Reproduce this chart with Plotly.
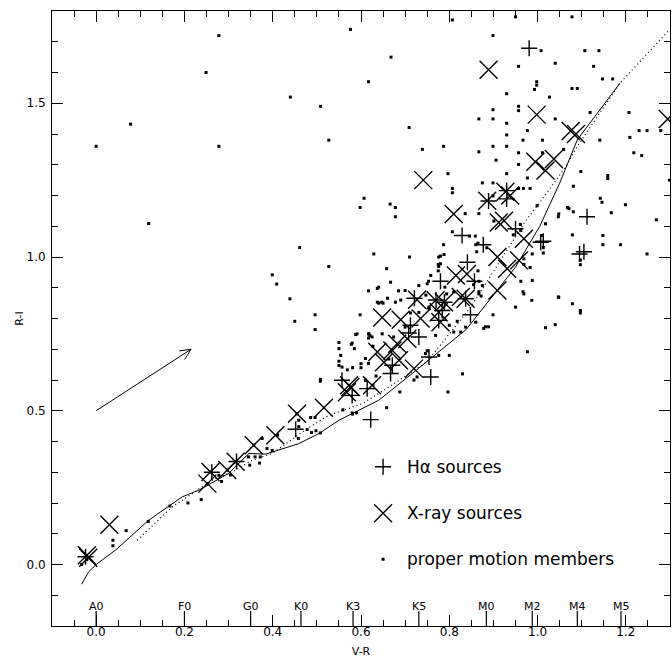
import numpy as np
import plotly.graph_objects as go

# ---------------- data ----------------
# dwarf sequence (solid) and second locus (dotted)
solid_vr = [-0.033, -0.017, 0.0, 0.044, 0.119, 0.195, 0.233, 0.30, 0.346, 0.384, 0.459, 0.505, 0.55, 0.64, 0.721, 0.838, 0.95, 1.005, 1.05, 1.09, 1.187]
solid_ri = [-0.064, -0.024, 0.0, 0.047, 0.144, 0.22, 0.242, 0.296, 0.361, 0.359, 0.393, 0.426, 0.469, 0.534, 0.627, 0.764, 0.967, 1.10, 1.24, 1.381, 1.566]
dotted_vr = [0.093, 0.172, 0.263, 0.316, 0.353, 0.399, 0.478, 0.527, 0.603, 0.663, 0.75, 0.838, 0.863, 0.94, 0.973, 1.003, 1.063, 1.09, 1.187, 1.297]
dotted_ri = [0.079, 0.187, 0.274, 0.307, 0.339, 0.361, 0.442, 0.485, 0.523, 0.577, 0.66, 0.818, 0.869, 1.043, 1.118, 1.173, 1.292, 1.36, 1.566, 1.736]

# proper motion members (V-R, R-I)
pm_members = [
    (0.807, 1.771), (1.078, 1.781), (0.950, 1.781), (0.576, 1.740), (0.278, 1.720), (0.899, 1.720),
    (0.668, 1.650), (1.008, 1.671), (1.107, 1.671), (1.139, 1.671), (1.127, 1.620), (1.040, 1.630),
    (0.249, 1.600), (0.957, 1.620), (0.998, 1.570), (0.998, 1.559), (1.147, 1.579), (1.170, 1.579),
    (0.617, 1.570), (0.993, 1.545), (1.027, 1.520), (0.930, 1.531), (1.078, 1.548), (1.090, 1.548),
    (0.440, 1.520), (0.957, 1.490), (0.957, 1.476), (0.899, 1.479), (0.508, 1.490), (0.867, 1.449),
    (0.899, 1.449), (1.040, 1.449), (1.119, 1.470), (1.207, 1.470), (0.930, 1.435), (0.709, 1.421),
    (0.977, 1.411), (1.230, 1.411), (1.248, 1.411), (1.279, 1.411), (0.078, 1.432), (0.930, 1.397),
    (1.141, 1.380), (1.209, 1.389), (0.967, 1.380), (1.011, 1.380), (0.527, 1.380), (0.930, 1.360),
    (0.899, 1.360), (0.787, 1.360), (0.0, 1.360), (0.278, 1.360), (0.739, 1.350), (0.867, 1.342),
    (0.957, 1.339), (1.218, 1.339), (1.059, 1.350), (1.011, 1.339), (1.236, 1.330), (0.906, 1.315),
    (0.957, 1.301), (1.098, 1.278), (0.930, 1.271), (0.797, 1.271), (1.159, 1.255), (1.159, 1.265),
    (1.299, 1.250), (0.875, 1.241), (0.899, 1.241), (0.977, 1.257), (0.957, 1.223), (0.968, 1.223),
    (0.983, 1.223), (0.807, 1.223), (0.807, 1.209), (1.081, 1.230), (0.607, 1.191), (0.899, 1.199),
    (1.142, 1.191), (1.146, 1.178), (0.666, 1.172), (0.678, 1.161), (0.598, 1.161), (1.068, 1.161),
    (1.081, 1.147), (1.199, 1.170), (0.867, 1.141), (0.836, 1.141), (0.678, 1.131), (1.167, 1.144),
    (1.269, 1.121), (1.047, 1.131), (0.961, 1.106), (0.901, 1.117), (0.119, 1.109), (1.018, 1.108),
    (1.048, 1.140), (1.071, 1.157), (0.962, 1.086), (0.807, 1.082), (0.846, 1.068), (0.859, 1.068),
    (0.945, 1.072), (0.865, 1.045), (0.787, 1.040), (1.079, 1.072), (1.148, 1.070), (1.188, 1.040),
    (1.148, 1.040), (0.461, 1.031), (1.013, 1.031), (1.013, 1.013), (0.988, 1.010), (0.780, 1.003),
    (0.862, 1.017), (0.710, 1.000), (1.248, 1.010), (1.097, 0.990), (1.097, 0.975), (0.969, 0.994),
    (0.969, 0.976), (0.629, 1.010), (0.983, 0.966), (0.527, 0.969), (0.658, 0.962), (0.865, 0.955),
    (0.775, 0.976), (0.399, 0.942), (0.775, 0.955), (0.409, 0.912), (0.962, 0.921), (0.753, 0.921),
    (0.867, 0.921), (1.010, 1.070), (0.999, 1.167), (0.967, 0.887), (0.637, 0.898), (0.617, 0.890),
    (1.047, 0.870), (0.867, 0.887), (0.794, 0.880), (1.079, 0.848), (1.097, 0.826), (1.097, 0.818),
    (0.439, 0.864), (0.637, 0.853), (0.647, 0.853), (0.660, 0.866), (0.685, 0.890), (0.496, 0.812),
    (0.496, 0.764), (0.450, 0.791), (1.040, 0.780), (1.018, 0.770), (0.882, 0.773), (0.889, 0.773),
    (0.899, 0.812), (0.598, 0.812), (0.678, 0.853), (0.977, 0.692), (0.550, 0.722), (0.550, 0.702),
    (0.578, 0.716), (0.585, 0.702), (0.617, 0.750), (0.617, 0.736), (0.818, 0.791), (0.872, 0.873),
    (0.755, 0.832), (0.712, 0.818), (0.988, 0.924), (0.987, 0.859), (1.048, 0.869), (0.950, 0.837),
    (0.969, 0.880), (0.776, 1.000), (0.788, 1.008), (0.758, 0.940), (0.776, 0.969), (0.667, 0.918),
    (0.640, 0.902), (0.640, 0.850), (0.650, 0.850), (0.700, 0.891), (0.690, 0.860), (0.731, 0.907),
    (0.750, 0.913), (0.747, 0.876), (0.591, 0.750), (0.618, 0.750), (0.625, 0.740), (0.648, 0.750),
    (0.674, 0.740), (0.700, 0.772), (0.731, 0.820), (0.754, 0.837), (0.769, 0.745), (0.800, 0.778),
    (0.810, 0.756), (0.800, 0.680), (0.826, 0.756), (0.837, 0.772), (0.860, 0.788), (0.878, 0.768),
    (0.867, 0.880), (0.875, 0.907), (0.855, 0.910), (0.790, 0.902), (0.810, 0.886), (0.885, 1.030),
    (0.780, 0.978), (0.860, 1.040), (0.508, 0.602), (0.508, 0.596), (0.550, 0.661), (0.550, 0.647),
    (0.569, 0.633), (0.581, 0.640), (0.617, 0.654), (0.797, 0.561), (0.688, 0.561), (0.658, 0.510),
    (0.559, 0.503), (0.581, 0.489), (0.610, 0.599), (0.634, 0.613), (0.663, 0.668), (0.750, 0.695),
    (0.557, 0.642), (0.600, 0.640), (0.610, 0.670), (0.554, 0.680), (0.588, 0.748), (0.620, 0.745),
    (0.627, 0.710), (0.580, 0.720), (0.600, 0.653), (0.580, 0.493), (0.590, 0.493), (0.746, 0.686),
    (0.776, 0.680), (0.830, 0.620), (0.727, 0.610), (0.720, 0.600), (0.459, 0.469), (0.459, 0.448),
    (0.498, 0.435), (0.508, 0.428), (0.486, 0.478), (0.496, 0.478), (0.488, 0.429), (0.458, 0.410),
    (0.478, 0.439), (0.411, 0.421), (0.399, 0.371), (0.387, 0.377), (0.360, 0.350), (0.345, 0.350),
    (0.372, 0.350), (0.370, 0.330), (0.348, 0.323), (0.376, 0.410), (0.304, 0.291), (0.278, 0.290),
    (0.284, 0.270), (0.238, 0.211), (0.208, 0.200), (0.167, 0.190), (0.118, 0.140), (0.068, 0.110),
    (0.038, 0.079), (0.038, 0.061), (-0.033, 0.0), (-0.021, 0.016), (0.252, 0.263), (0.259, 0.301),
    (0.316, 0.334), (0.357, 0.388), (0.455, 0.490), (0.627, 0.583), (0.576, 0.577), (0.297, 0.307),
]

# X-ray sources
xray_sources = [
    (0.889, 1.609), (0.998, 1.463), (1.075, 1.410), (1.087, 1.400), (1.295, 1.449), (1.037, 1.319),
    (0.995, 1.310), (1.018, 1.281), (0.741, 1.250), (0.810, 1.140), (0.886, 1.183), (0.927, 1.212),
    (0.938, 1.200), (0.924, 1.118), (0.912, 1.112), (0.969, 1.059), (0.909, 1.000), (0.958, 0.989),
    (0.931, 0.962), (0.909, 0.891), (0.815, 0.940), (0.840, 0.945), (0.826, 0.870), (0.837, 0.864),
    (0.788, 0.853), (0.776, 0.820), (0.780, 0.788), (0.769, 0.859), (0.727, 0.861), (0.735, 0.800),
    (0.690, 0.796), (0.648, 0.803), (0.705, 0.734), (0.682, 0.718), (0.637, 0.691), (0.671, 0.696),
    (0.652, 0.658), (0.686, 0.664), (0.720, 0.637), (0.625, 0.583), (0.573, 0.583), (0.576, 0.577),
    (0.568, 0.560), (0.516, 0.510), (0.455, 0.490), (0.406, 0.420), (0.357, 0.388), (0.316, 0.334),
    (0.297, 0.307), (0.259, 0.301), (0.252, 0.263), (0.030, 0.129), (-0.021, 0.030), (-0.018, 0.022),
]

# H-alpha sources
halpha_sources = [
    (0.981, 1.679), (1.112, 1.131), (1.105, 1.017), (1.095, 1.010), (1.013, 1.051), (0.877, 1.040),
    (0.829, 1.070), (0.889, 1.182), (0.930, 1.189), (0.930, 1.216), (0.950, 1.092), (0.841, 0.983),
    (0.780, 0.921), (0.857, 0.921), (0.837, 0.864), (0.848, 0.812), (0.789, 0.853), (0.784, 0.826),
    (0.776, 0.794), (0.712, 0.778), (0.708, 0.753), (0.731, 0.740), (0.671, 0.648), (0.667, 0.621),
    (0.754, 0.675), (0.758, 0.610), (0.622, 0.471), (0.580, 0.550), (0.557, 0.599), (0.614, 0.572),
    (0.721, 0.866), (0.770, 0.860), (0.452, 0.440), (0.318, 0.335), (0.262, 0.300), (-0.024, 0.025),
    (1.007, 1.048),
]

# spectral type scale
spec_types = ["A0", "F0", "G0", "K0", "K3", "K5", "M0", "M2", "M4", "M5"]
spec_vr = [0.0, 0.2, 0.35, 0.464, 0.582, 0.731, 0.884, 0.988, 1.090, 1.189]

# reddening vector (tail -> head)
redden_tail = (0.0, 0.5)
redden_head = (0.215, 0.70)

# legend
legend_labels = ["H\u03b1 sources", "X-ray sources", "proper motion members"]
legend_ri = [0.318, 0.167, 0.017]
legend_marker_vr = 0.65
legend_text_vr = 0.70

# ---------------- layout constants ----------------
W, H = 672, 662
ML, MR, MT, MB = 52, 2, 11, 36
XR = [-0.1, 1.3]
YR = [-0.2, 1.8]
FONT = "DejaVu Sans"

fig = go.Figure()

# loci
fig.add_trace(go.Scatter(x=solid_vr, y=solid_ri, mode="lines",
                         line=dict(color="black", width=1), showlegend=False, hoverinfo="skip"))
fig.add_trace(go.Scatter(x=dotted_vr, y=dotted_ri, mode="lines",
                         line=dict(color="black", width=1.2, dash="1px,3px"), showlegend=False, hoverinfo="skip"))

# members
pm_vr, pm_ri = zip(*pm_members)
fig.add_trace(go.Scatter(x=pm_vr, y=pm_ri, mode="markers",
                         marker=dict(symbol="square", size=3, color="black", line=dict(width=0)),
                         showlegend=False))
xr_vr, xr_ri = zip(*xray_sources)
fig.add_trace(go.Scatter(x=xr_vr, y=xr_ri, mode="markers",
                         marker=dict(symbol="x-thin-open", size=18, color="black",
                                     line=dict(color="black", width=1.4)),
                         showlegend=False))
ha_vr, ha_ri = zip(*halpha_sources)
fig.add_trace(go.Scatter(x=ha_vr, y=ha_ri, mode="markers",
                         marker=dict(symbol="cross-thin-open", size=11.5, color="black",
                                     line=dict(color="black", width=1.4)),
                         showlegend=False))

# spectral-type ticks
sx, sy = [], []
for v in spec_vr:
    sx += [v, v, None]
    sy += [YR[0], -0.151, None]
fig.add_trace(go.Scatter(x=sx, y=sy, mode="lines", line=dict(color="black", width=1.2),
                         showlegend=False, hoverinfo="skip"))
for name, v in zip(spec_types, spec_vr):
    fig.add_annotation(x=v, y=-0.137, text=name, showarrow=False, xanchor="center", yanchor="middle",
                       font=dict(family=FONT, size=11, color="black"))

# reddening arrow (open head drawn in pixel space)
pw, ph = W - ML - MR, H - MT - MB
kx, ky = pw / (XR[1] - XR[0]), ph / (YR[1] - YR[0])
dx = (redden_head[0] - redden_tail[0]) * kx
dy = (redden_head[1] - redden_tail[1]) * ky
ang = np.arctan2(dy, dx)
hl, ha = 12.0, np.radians(25)
barbs_x, barbs_y = [], []
for s in (1, -1):
    a = ang + np.pi - s * ha
    barbs_x += [redden_head[0] + hl * np.cos(a) / kx, redden_head[0], None]
    barbs_y += [redden_head[1] + hl * np.sin(a) / ky, redden_head[1], None]
fig.add_trace(go.Scatter(x=[redden_tail[0], redden_head[0]] + [None] + barbs_x,
                         y=[redden_tail[1], redden_head[1]] + [None] + barbs_y,
                         mode="lines", line=dict(color="black", width=1),
                         showlegend=False, hoverinfo="skip"))

# legend
leg_symbols = ["cross-thin-open", "x-thin-open", "square"]
leg_sizes = [11.5, 18, 3]
for lab, yv, sym, sz in zip(legend_labels, legend_ri, leg_symbols, leg_sizes):
    fig.add_trace(go.Scatter(x=[legend_marker_vr], y=[yv], mode="markers",
                             marker=dict(symbol=sym, size=sz, color="black",
                                         line=dict(color="black", width=1.4 if sz > 3 else 0)),
                             showlegend=False))
    fig.add_annotation(x=legend_text_vr, y=yv, text=lab, showarrow=False, xanchor="left", yanchor="middle",
                       font=dict(family=FONT, size=17, color="black"))

axis_common = dict(showline=True, linecolor="black", linewidth=1, mirror="ticks",
                   ticks="inside", ticklen=11, tickwidth=1, tickcolor="black",
                   showgrid=False, zeroline=False, tickformat=".1f",
                   tickfont=dict(family=FONT, size=12, color="black"))

fig.update_xaxes(range=XR, tick0=0, dtick=0.2, ticklabelstandoff=-5,
                 minor=dict(dtick=0.05, ticks="inside", ticklen=6, tickcolor="black", tickwidth=1),
                 title=dict(text="V-R", font=dict(family=FONT, size=11, color="black"), standoff=8),
                 **axis_common)
fig.update_yaxes(range=YR, tick0=0, dtick=0.5, ticklabelstandoff=3,
                 minor=dict(dtick=0.1, ticks="inside", ticklen=6, tickcolor="black", tickwidth=1),
                 title=dict(text="R-I", font=dict(family=FONT, size=11, color="black"), standoff=0),
                 **axis_common)

fig.update_layout(width=W, height=H, margin=dict(l=ML, r=MR, t=MT, b=MB, autoexpand=False),
                  plot_bgcolor="white", paper_bgcolor="white", showlegend=False)

fig.write_html("out.html")
